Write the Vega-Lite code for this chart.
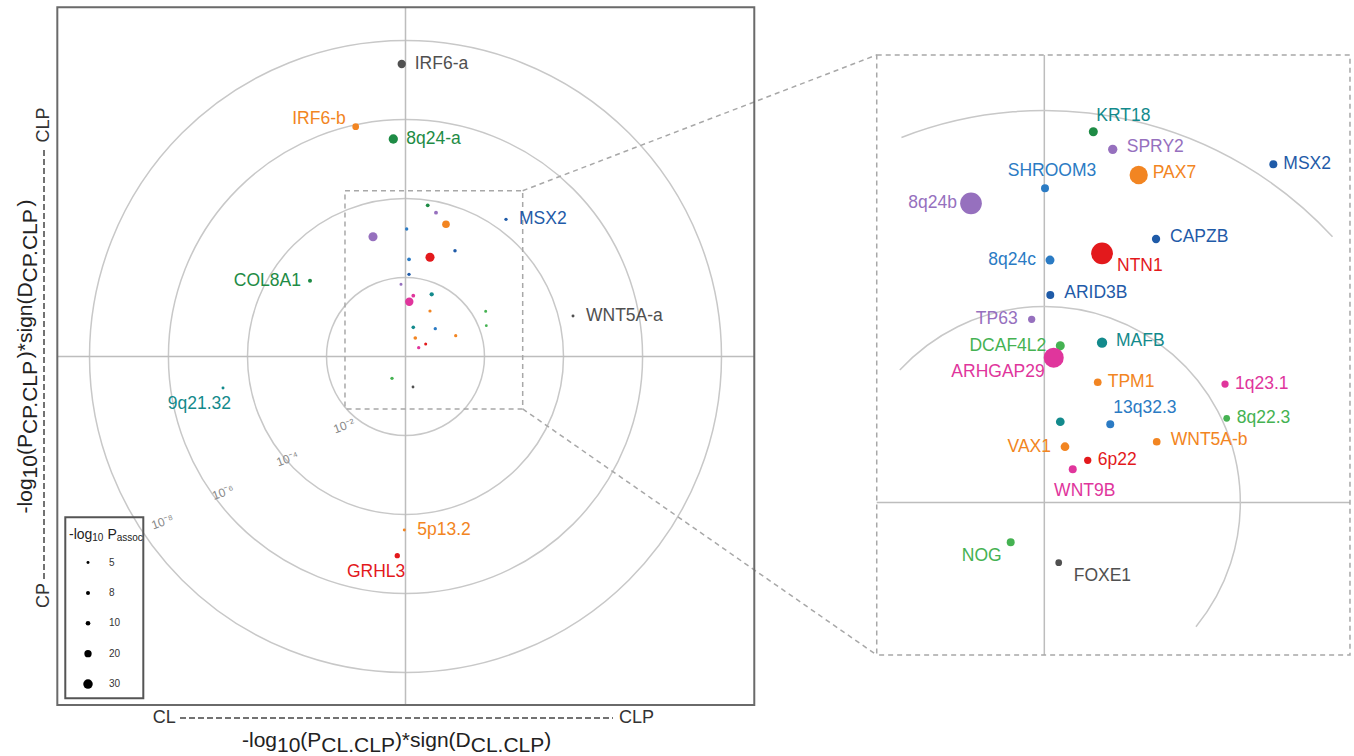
{
"$schema":"https://vega.github.io/schema/vega-lite/v6.json",
"width":1354,"height":756,"padding":0,
"autosize":{"type":"none"},
"background":"white",
"config":{"view":{"stroke":null},"axis":{"disable":true},"font":"Liberation Sans","text":{"font":"Liberation Sans"}},
"data":{"values":[{}]},
"datasets":{
"ov":[
{"gene":"IRF6-a","u":-0.096,"v":7.405,"nlogp":24.5,"grp":"k1","lgrp":"k1","pos":"E"},
{"gene":"IRF6-b","u":-1.261,"v":5.818,"nlogp":17.6,"grp":"k2","lgrp":"k2","pos":"NW"},
{"gene":"8q24-a","u":-0.309,"v":5.506,"nlogp":29,"grp":"k3","lgrp":"k3","pos":"E"},
{"gene":"MSX2","u":2.544,"v":3.473,"nlogp":6,"grp":"k6","lgrp":"k6","pos":"E"},
{"gene":"COL8A1","u":-2.418,"v":1.919,"nlogp":8,"grp":"k3","lgrp":"k3","pos":"W"},
{"gene":"WNT5A-a","u":4.241,"v":1.025,"nlogp":5,"grp":"k1","lgrp":"k1","pos":"E"},
{"gene":"9q21.32","u":-4.62,"v":-0.797,"nlogp":5,"grp":"k9","lgrp":"k9","pos":"SW"},
{"gene":"5p13.2","u":-0.03,"v":-4.392,"nlogp":5,"grp":"k2","lgrp":"k2","pos":"E"},
{"gene":"GRHL3","u":-0.208,"v":-5.043,"nlogp":12.3,"grp":"k8","lgrp":"k8","pos":"SW"},
{"gene":"KRT18","u":0.562,"v":3.828,"nlogp":7.2,"grp":"k3","lgrp":"k9","pos":"none"},
{"gene":"SPRY2","u":0.772,"v":3.641,"nlogp":7.6,"grp":"k7","lgrp":"k7","pos":"none"},
{"gene":"PAX7","u":1.025,"v":3.347,"nlogp":21.5,"grp":"k2","lgrp":"k2","pos":"none"},
{"gene":"SHROOM3","u":0.03,"v":3.228,"nlogp":6,"grp":"k5","lgrp":"k5","pos":"none"},
{"gene":"8q24b","u":-0.823,"v":3.033,"nlogp":28,"grp":"k7","lgrp":"k7","pos":"none"},
{"gene":"CAPZB","u":1.253,"v":2.678,"nlogp":6.4,"grp":"k6","lgrp":"k6","pos":"none"},
{"gene":"8q24c","u":0.089,"v":2.461,"nlogp":7.2,"grp":"k5","lgrp":"k5","pos":"none"},
{"gene":"NTN1","u":0.62,"v":2.511,"nlogp":28,"grp":"k8","lgrp":"k8","pos":"none"},
{"gene":"ARID3B","u":0.089,"v":2.081,"nlogp":6,"grp":"k6","lgrp":"k6","pos":"none"},
{"gene":"TP63","u":-0.114,"v":1.828,"nlogp":5.2,"grp":"k7","lgrp":"k7","pos":"none"},
{"gene":"DCAF4L2","u":0.197,"v":1.539,"nlogp":7.2,"grp":"k10","lgrp":"k10","pos":"none"},
{"gene":"ARHGAP29","u":0.096,"v":1.387,"nlogp":24.7,"grp":"k10","lgrp":"k10","pos":"none"},
{"gene":"MAFB","u":0.663,"v":1.575,"nlogp":8.9,"grp":"k9","lgrp":"k9","pos":"none"},
{"gene":"TPM1","u":0.62,"v":1.152,"nlogp":5.7,"grp":"k2","lgrp":"k2","pos":"none"},
{"gene":"1q23.1","u":2.03,"v":1.144,"nlogp":5.2,"grp":"k4","lgrp":"k4","pos":"none"},
{"gene":"8q22.3","u":2.046,"v":0.78,"nlogp":4.6,"grp":"k4","lgrp":"k4","pos":"none"},
{"gene":"unnamed","u":0.197,"v":0.739,"nlogp":6.9,"grp":"k9","lgrp":"k9","pos":"none"},
{"gene":"13q32.3","u":0.754,"v":0.704,"nlogp":6,"grp":"k5","lgrp":"k5","pos":"none"},
{"gene":"WNT5A-b","u":1.271,"v":0.527,"nlogp":5.7,"grp":"k2","lgrp":"k2","pos":"none"},
{"gene":"VAX1","u":0.248,"v":0.468,"nlogp":6.9,"grp":"k2","lgrp":"k2","pos":"none"},
{"gene":"6p22","u":0.511,"v":0.316,"nlogp":5.2,"grp":"k8","lgrp":"k8","pos":"none"},
{"gene":"WNT9B","u":0.334,"v":0.223,"nlogp":6,"grp":"k10","lgrp":"k10","pos":"none"},
{"gene":"NOG","u":-0.342,"v":-0.552,"nlogp":6,"grp":"k4","lgrp":"k4","pos":"none"},
{"gene":"FOXE1","u":0.19,"v":-0.772,"nlogp":4.6,"grp":"k1","lgrp":"k1","pos":"none"}
],
"zm":[
{"gene":"KRT18","u":0.5,"v":3.784,"nlogp":7.2,"grp":"k3","lgrp":"k9","pos":"NE"},
{"gene":"SPRY2","u":0.698,"v":3.604,"nlogp":7.6,"grp":"k7","lgrp":"k7","pos":"E2"},
{"gene":"MSX2","u":2.337,"v":3.451,"nlogp":6,"grp":"k6","lgrp":"k6","pos":"E"},
{"gene":"SHROOM3","u":0.007,"v":3.206,"nlogp":6,"grp":"k5","lgrp":"k5","pos":"N"},
{"gene":"PAX7","u":0.963,"v":3.342,"nlogp":21.5,"grp":"k2","lgrp":"k2","pos":"E2"},
{"gene":"8q24b","u":-0.748,"v":3.053,"nlogp":28,"grp":"k7","lgrp":"k7","pos":"W"},
{"gene":"CAPZB","u":1.14,"v":2.689,"nlogp":6.4,"grp":"k6","lgrp":"k6","pos":"E2"},
{"gene":"8q24c","u":0.058,"v":2.474,"nlogp":7.2,"grp":"k5","lgrp":"k5","pos":"W"},
{"gene":"NTN1","u":0.589,"v":2.543,"nlogp":28,"grp":"k8","lgrp":"k8","pos":"SE"},
{"gene":"ARID3B","u":0.061,"v":2.117,"nlogp":6,"grp":"k6","lgrp":"k6","pos":"E2"},
{"gene":"TP63","u":-0.129,"v":1.869,"nlogp":5.2,"grp":"k7","lgrp":"k7","pos":"W"},
{"gene":"DCAF4L2","u":0.163,"v":1.6,"nlogp":7.2,"grp":"k4","lgrp":"k4","pos":"W"},
{"gene":"ARHGAP29","u":0.096,"v":1.478,"nlogp":24.7,"grp":"k10","lgrp":"k10","pos":"SW"},
{"gene":"MAFB","u":0.589,"v":1.631,"nlogp":8.9,"grp":"k9","lgrp":"k9","pos":"E2"},
{"gene":"TPM1","u":0.545,"v":1.227,"nlogp":5.7,"grp":"k2","lgrp":"k2","pos":"E"},
{"gene":"1q23.1","u":1.844,"v":1.209,"nlogp":5.2,"grp":"k10","lgrp":"k10","pos":"E"},
{"gene":"unnamed","u":0.163,"v":0.824,"nlogp":6.9,"grp":"k9","lgrp":"k9","pos":"none"},
{"gene":"13q32.3","u":0.673,"v":0.798,"nlogp":6,"grp":"k5","lgrp":"k5","pos":"NE"},
{"gene":"8q22.3","u":1.861,"v":0.859,"nlogp":4.6,"grp":"k4","lgrp":"k4","pos":"E"},
{"gene":"WNT5A-b","u":1.147,"v":0.62,"nlogp":5.7,"grp":"k2","lgrp":"k2","pos":"E2"},
{"gene":"VAX1","u":0.211,"v":0.569,"nlogp":6.9,"grp":"k2","lgrp":"k2","pos":"W"},
{"gene":"6p22","u":0.443,"v":0.431,"nlogp":5.2,"grp":"k8","lgrp":"k8","pos":"E"},
{"gene":"WNT9B","u":0.29,"v":0.339,"nlogp":6,"grp":"k10","lgrp":"k10","pos":"S"},
{"gene":"NOG","u":-0.343,"v":-0.406,"nlogp":6,"grp":"k4","lgrp":"k4","pos":"SW"},
{"gene":"FOXE1","u":0.147,"v":-0.614,"nlogp":4.6,"grp":"k1","lgrp":"k1","pos":"SE"}
]
},
"layer":[
{
"layer":[
{"data":{"values":[{"r":2},{"r":4},{"r":6},{"r":8}]},
 "mark":{"type":"arc","theta":0,"theta2":6.2832,"filled":false,"stroke":"#c8c8c8","strokeWidth":1.5},
 "encoding":{"x":{"datum":0,"type":"quantitative","scale":{"domain":[-10.266,24.013],"nice":false,"zero":false}},"y":{"datum":0,"type":"quantitative","scale":{"domain":[-10.114,9.025],"nice":false,"zero":false}},
 "radius":{"field":"r","type":"quantitative","stack":null,"scale":{"type":"linear","domain":[0,8],"range":[0,316],"zero":true}}}},
{"mark":{"type":"rule","stroke":"#bdbdbd","strokeWidth":1.5},
 "encoding":{"x":{"datum":-8.815,"type":"quantitative","scale":{"domain":[-10.266,24.013],"nice":false,"zero":false}},"x2":{"datum":8.83},"y":{"datum":0,"type":"quantitative","scale":{"domain":[-10.114,9.025],"nice":false,"zero":false}}}},
{"mark":{"type":"rule","stroke":"#bdbdbd","strokeWidth":1.5},
 "encoding":{"x":{"datum":0,"type":"quantitative","scale":{"domain":[-10.266,24.013],"nice":false,"zero":false}},"y":{"datum":8.84,"type":"quantitative","scale":{"domain":[-10.114,9.025],"nice":false,"zero":false}},"y2":{"datum":-8.82}}},
{"mark":{"type":"rect","filled":false,"stroke":"#a8a8a8","strokeWidth":1.5,"strokeDash":[5,4]},
 "encoding":{"x":{"datum":-1.532,"type":"quantitative","scale":{"domain":[-10.266,24.013],"nice":false,"zero":false}},"x2":{"datum":2.967},"y":{"datum":4.197,"type":"quantitative","scale":{"domain":[-10.114,9.025],"nice":false,"zero":false}},"y2":{"datum":-1.327}}},
{"mark":{"type":"rule","stroke":"#a8a8a8","strokeWidth":1.5,"strokeDash":[5,4]},
 "encoding":{"x":{"datum":2.967,"type":"quantitative","scale":{"domain":[-10.266,24.013],"nice":false,"zero":false}},"x2":{"datum":11.929},"y":{"datum":4.197,"type":"quantitative","scale":{"domain":[-10.114,9.025],"nice":false,"zero":false}},"y2":{"datum":7.633}}},
{"mark":{"type":"rule","stroke":"#a8a8a8","strokeWidth":1.5,"strokeDash":[5,4]},
 "encoding":{"x":{"datum":2.967,"type":"quantitative","scale":{"domain":[-10.266,24.013],"nice":false,"zero":false}},"x2":{"datum":11.929},"y":{"datum":-1.327,"type":"quantitative","scale":{"domain":[-10.114,9.025],"nice":false,"zero":false}},"y2":{"datum":-7.557}}},
{"mark":{"type":"text","text":"10⁻²","fontSize":12,"color":"#8a8a8a","angle":340,"align":"center","baseline":"middle"},
 "encoding":{"x":{"datum":-1.557,"type":"quantitative","scale":{"domain":[-10.266,24.013],"nice":false,"zero":false}},"y":{"datum":-1.759,"type":"quantitative","scale":{"domain":[-10.114,9.025],"nice":false,"zero":false}}}},
{"mark":{"type":"text","text":"10⁻⁴","fontSize":12,"color":"#8a8a8a","angle":340,"align":"center","baseline":"middle"},
 "encoding":{"x":{"datum":-2.987,"type":"quantitative","scale":{"domain":[-10.266,24.013],"nice":false,"zero":false}},"y":{"datum":-2.595,"type":"quantitative","scale":{"domain":[-10.114,9.025],"nice":false,"zero":false}}}},
{"mark":{"type":"text","text":"10⁻⁶","fontSize":12,"color":"#8a8a8a","angle":340,"align":"center","baseline":"middle"},
 "encoding":{"x":{"datum":-4.62,"type":"quantitative","scale":{"domain":[-10.266,24.013],"nice":false,"zero":false}},"y":{"datum":-3.443,"type":"quantitative","scale":{"domain":[-10.114,9.025],"nice":false,"zero":false}}}},
{"mark":{"type":"text","text":"10⁻⁸","fontSize":12,"color":"#8a8a8a","angle":340,"align":"center","baseline":"middle"},
 "encoding":{"x":{"datum":-6.152,"type":"quantitative","scale":{"domain":[-10.266,24.013],"nice":false,"zero":false}},"y":{"datum":-4.19,"type":"quantitative","scale":{"domain":[-10.114,9.025],"nice":false,"zero":false}}}},
{"data":{"name":"ov"},
 "mark":{"type":"circle","opacity":1},
 "encoding":{
  "x":{"field":"u","type":"quantitative","scale":{"domain":[-10.266,24.013],"nice":false,"zero":false}},"y":{"field":"v","type":"quantitative","scale":{"domain":[-10.114,9.025],"nice":false,"zero":false}},
  "size":{"field":"nlogp","type":"quantitative","scale":{"type":"pow","exponent":1.3,"domain":[0,30],"range":[0,90]},
   "legend":{"orient":"none","legendX":83,"legendY":557.5,"title":null,"values":[5,8,10,20,30],"symbolType":"circle","symbolFillColor":"#000","symbolStrokeColor":"#000","symbolStrokeWidth":0,"symbolOpacity":1,"labelFontSize":10,"labelColor":"#333","labelOffset":16,"rowPadding":20.4,"padding":0,"direction":"vertical"}},
  "color":{"field":"grp","type":"nominal","scale":{"domain":["k1","k2","k3","k4","k5","k6","k7","k8","k9","k10"],"range":["#505050","#F28522","#1E8B45","#45B252","#2B7BC4","#1F5BA8","#9670BE","#E3191C","#138A8C","#E0359C"]},"legend":null}}},
{"data":{"name":"ov"},"transform":[{"filter":{"field":"pos","equal":"E"}}],
 "mark":{"type":"text","align":"left","baseline":"middle","dx":13,"fontSize":17.5},
 "encoding":{"x":{"field":"u","type":"quantitative","scale":{"domain":[-10.266,24.013],"nice":false,"zero":false}},"y":{"field":"v","type":"quantitative","scale":{"domain":[-10.114,9.025],"nice":false,"zero":false}},"text":{"field":"gene"},"color":{"field":"lgrp","type":"nominal","scale":{"domain":["k1","k2","k3","k4","k5","k6","k7","k8","k9","k10"],"range":["#505050","#F28522","#1E8B45","#45B252","#2B7BC4","#1F5BA8","#9670BE","#E3191C","#138A8C","#E0359C"]},"legend":null}}},
{"data":{"name":"ov"},"transform":[{"filter":{"field":"pos","equal":"W"}}],
 "mark":{"type":"text","align":"right","baseline":"middle","dx":-9,"fontSize":17.5},
 "encoding":{"x":{"field":"u","type":"quantitative","scale":{"domain":[-10.266,24.013],"nice":false,"zero":false}},"y":{"field":"v","type":"quantitative","scale":{"domain":[-10.114,9.025],"nice":false,"zero":false}},"text":{"field":"gene"},"color":{"field":"lgrp","type":"nominal","scale":{"domain":["k1","k2","k3","k4","k5","k6","k7","k8","k9","k10"],"range":["#505050","#F28522","#1E8B45","#45B252","#2B7BC4","#1F5BA8","#9670BE","#E3191C","#138A8C","#E0359C"]},"legend":null}}},
{"data":{"name":"ov"},"transform":[{"filter":{"field":"pos","equal":"NW"}}],
 "mark":{"type":"text","align":"right","baseline":"middle","dx":-10,"dy":-8,"fontSize":17.5},
 "encoding":{"x":{"field":"u","type":"quantitative","scale":{"domain":[-10.266,24.013],"nice":false,"zero":false}},"y":{"field":"v","type":"quantitative","scale":{"domain":[-10.114,9.025],"nice":false,"zero":false}},"text":{"field":"gene"},"color":{"field":"lgrp","type":"nominal","scale":{"domain":["k1","k2","k3","k4","k5","k6","k7","k8","k9","k10"],"range":["#505050","#F28522","#1E8B45","#45B252","#2B7BC4","#1F5BA8","#9670BE","#E3191C","#138A8C","#E0359C"]},"legend":null}}},
{"data":{"name":"ov"},"transform":[{"filter":{"field":"pos","equal":"SW"}}],
 "mark":{"type":"text","align":"right","baseline":"middle","dx":8,"dy":16,"fontSize":17.5},
 "encoding":{"x":{"field":"u","type":"quantitative","scale":{"domain":[-10.266,24.013],"nice":false,"zero":false}},"y":{"field":"v","type":"quantitative","scale":{"domain":[-10.114,9.025],"nice":false,"zero":false}},"text":{"field":"gene"},"color":{"field":"lgrp","type":"nominal","scale":{"domain":["k1","k2","k3","k4","k5","k6","k7","k8","k9","k10"],"range":["#505050","#F28522","#1E8B45","#45B252","#2B7BC4","#1F5BA8","#9670BE","#E3191C","#138A8C","#E0359C"]},"legend":null}}},
{"mark":{"type":"rect","filled":false,"stroke":"#555555","strokeWidth":2},
 "encoding":{"x":{"datum":-8.613,"type":"quantitative","scale":{"domain":[-10.266,24.013],"nice":false,"zero":false}},"x2":{"datum":-6.638},"y":{"datum":-4.071,"type":"quantitative","scale":{"domain":[-10.114,9.025],"nice":false,"zero":false}},"y2":{"datum":-8.653}}},
{"mark":{"type":"text","text":"-log","fontSize":14,"color":"#222","align":"left","baseline":"middle"},
 "encoding":{"x":{"datum":-8.519,"type":"quantitative","scale":{"domain":[-10.266,24.013],"nice":false,"zero":false}},"y":{"datum":-4.519,"type":"quantitative","scale":{"domain":[-10.114,9.025],"nice":false,"zero":false}}}},
{"mark":{"type":"text","text":"10","fontSize":10,"color":"#222","align":"left","baseline":"middle","dy":3},
 "encoding":{"x":{"datum":-7.929,"type":"quantitative","scale":{"domain":[-10.266,24.013],"nice":false,"zero":false}},"y":{"datum":-4.519,"type":"quantitative","scale":{"domain":[-10.114,9.025],"nice":false,"zero":false}}}},
{"mark":{"type":"text","text":"P","fontSize":14,"color":"#222","align":"left","baseline":"middle"},
 "encoding":{"x":{"datum":-7.547,"type":"quantitative","scale":{"domain":[-10.266,24.013],"nice":false,"zero":false}},"y":{"datum":-4.519,"type":"quantitative","scale":{"domain":[-10.114,9.025],"nice":false,"zero":false}}}},
{"mark":{"type":"text","text":"assoc","fontSize":10,"color":"#222","align":"left","baseline":"middle","dy":3},
 "encoding":{"x":{"datum":-7.311,"type":"quantitative","scale":{"domain":[-10.266,24.013],"nice":false,"zero":false}},"y":{"datum":-4.519,"type":"quantitative","scale":{"domain":[-10.114,9.025],"nice":false,"zero":false}}}},
{"mark":{"type":"rect","filled":false,"stroke":"#6a6a6a","strokeWidth":2},
 "encoding":{"x":{"datum":-8.815,"type":"quantitative","scale":{"domain":[-10.266,24.013],"nice":false,"zero":false}},"x2":{"datum":8.83},"y":{"datum":8.84,"type":"quantitative","scale":{"domain":[-10.114,9.025],"nice":false,"zero":false}},"y2":{"datum":-8.82}}},
{"mark":{"type":"text","text":"CL","fontSize":18,"color":"#333","align":"left","baseline":"middle"},
 "encoding":{"x":{"datum":-6.4,"type":"quantitative","scale":{"domain":[-10.266,24.013],"nice":false,"zero":false}},"y":{"datum":-9.152,"type":"quantitative","scale":{"domain":[-10.114,9.025],"nice":false,"zero":false}}}},
{"mark":{"type":"text","text":"CLP","fontSize":18,"color":"#333","align":"right","baseline":"middle"},
 "encoding":{"x":{"datum":6.291,"type":"quantitative","scale":{"domain":[-10.266,24.013],"nice":false,"zero":false}},"y":{"datum":-9.152,"type":"quantitative","scale":{"domain":[-10.114,9.025],"nice":false,"zero":false}}}},
{"mark":{"type":"rule","stroke":"#444","strokeWidth":1.5,"strokeDash":[6,3]},
 "encoding":{"x":{"datum":-5.709,"type":"quantitative","scale":{"domain":[-10.266,24.013],"nice":false,"zero":false}},"x2":{"datum":5.253},"y":{"datum":-9.152,"type":"quantitative","scale":{"domain":[-10.114,9.025],"nice":false,"zero":false}}}},
{"mark":{"type":"text","text":"CP","fontSize":18,"color":"#333","align":"left","baseline":"middle","angle":270},
 "encoding":{"x":{"datum":-9.152,"type":"quantitative","scale":{"domain":[-10.266,24.013],"nice":false,"zero":false}},"y":{"datum":-6.367,"type":"quantitative","scale":{"domain":[-10.114,9.025],"nice":false,"zero":false}}}},
{"mark":{"type":"text","text":"CLP","fontSize":18,"color":"#333","align":"right","baseline":"middle","angle":270},
 "encoding":{"x":{"datum":-9.152,"type":"quantitative","scale":{"domain":[-10.266,24.013],"nice":false,"zero":false}},"y":{"datum":6.301,"type":"quantitative","scale":{"domain":[-10.114,9.025],"nice":false,"zero":false}}}},
{"mark":{"type":"rule","stroke":"#444","strokeWidth":1.5,"strokeDash":[6,3]},
 "encoding":{"x":{"datum":-9.152,"type":"quantitative","scale":{"domain":[-10.266,24.013],"nice":false,"zero":false}},"y":{"datum":-5.633,"type":"quantitative","scale":{"domain":[-10.114,9.025],"nice":false,"zero":false}},"y2":{"datum":5.253}}},
{"mark":{"type":"text","text":"-log","fontSize":21,"color":"#222","align":"left","baseline":"middle"},
 "encoding":{"x":{"datum":-4.139,"type":"quantitative","scale":{"domain":[-10.266,24.013],"nice":false,"zero":false}},"y":{"datum":-9.734,"type":"quantitative","scale":{"domain":[-10.114,9.025],"nice":false,"zero":false}}}},
{"mark":{"type":"text","text":"10","fontSize":21,"color":"#222","align":"left","baseline":"middle","dy":5},
 "encoding":{"x":{"datum":-3.253,"type":"quantitative","scale":{"domain":[-10.266,24.013],"nice":false,"zero":false}},"y":{"datum":-9.734,"type":"quantitative","scale":{"domain":[-10.114,9.025],"nice":false,"zero":false}}}},
{"mark":{"type":"text","text":"(P","fontSize":21,"color":"#222","align":"left","baseline":"middle"},
 "encoding":{"x":{"datum":-2.662,"type":"quantitative","scale":{"domain":[-10.266,24.013],"nice":false,"zero":false}},"y":{"datum":-9.734,"type":"quantitative","scale":{"domain":[-10.114,9.025],"nice":false,"zero":false}}}},
{"mark":{"type":"text","text":"CL.CLP","fontSize":21,"color":"#222","align":"left","baseline":"middle","dy":5},
 "encoding":{"x":{"datum":-2.13,"type":"quantitative","scale":{"domain":[-10.266,24.013],"nice":false,"zero":false}},"y":{"datum":-9.734,"type":"quantitative","scale":{"domain":[-10.114,9.025],"nice":false,"zero":false}}}},
{"mark":{"type":"text","text":")*sign(D","fontSize":21,"color":"#222","align":"left","baseline":"middle"},
 "encoding":{"x":{"datum":-0.269,"type":"quantitative","scale":{"domain":[-10.266,24.013],"nice":false,"zero":false}},"y":{"datum":-9.734,"type":"quantitative","scale":{"domain":[-10.114,9.025],"nice":false,"zero":false}}}},
{"mark":{"type":"text","text":"CL.CLP","fontSize":21,"color":"#222","align":"left","baseline":"middle","dy":5},
 "encoding":{"x":{"datum":1.651,"type":"quantitative","scale":{"domain":[-10.266,24.013],"nice":false,"zero":false}},"y":{"datum":-9.734,"type":"quantitative","scale":{"domain":[-10.114,9.025],"nice":false,"zero":false}}}},
{"mark":{"type":"text","text":")","fontSize":21,"color":"#222","align":"left","baseline":"middle"},
 "encoding":{"x":{"datum":3.511,"type":"quantitative","scale":{"domain":[-10.266,24.013],"nice":false,"zero":false}},"y":{"datum":-9.734,"type":"quantitative","scale":{"domain":[-10.114,9.025],"nice":false,"zero":false}}}},
{"mark":{"type":"text","text":"-log","fontSize":21,"color":"#222","align":"left","baseline":"middle","angle":270},
 "encoding":{"x":{"datum":-9.608,"type":"quantitative","scale":{"domain":[-10.266,24.013],"nice":false,"zero":false}},"y":{"datum":-3.972,"type":"quantitative","scale":{"domain":[-10.114,9.025],"nice":false,"zero":false}}}},
{"mark":{"type":"text","text":"10","fontSize":21,"color":"#222","align":"left","baseline":"middle","angle":270,"dy":5},
 "encoding":{"x":{"datum":-9.608,"type":"quantitative","scale":{"domain":[-10.266,24.013],"nice":false,"zero":false}},"y":{"datum":-3.086,"type":"quantitative","scale":{"domain":[-10.114,9.025],"nice":false,"zero":false}}}},
{"mark":{"type":"text","text":"(P","fontSize":21,"color":"#222","align":"left","baseline":"middle","angle":270},
 "encoding":{"x":{"datum":-9.608,"type":"quantitative","scale":{"domain":[-10.266,24.013],"nice":false,"zero":false}},"y":{"datum":-2.496,"type":"quantitative","scale":{"domain":[-10.114,9.025],"nice":false,"zero":false}}}},
{"mark":{"type":"text","text":"CP.CLP","fontSize":21,"color":"#222","align":"left","baseline":"middle","angle":270,"dy":5},
 "encoding":{"x":{"datum":-9.608,"type":"quantitative","scale":{"domain":[-10.266,24.013],"nice":false,"zero":false}},"y":{"datum":-1.965,"type":"quantitative","scale":{"domain":[-10.114,9.025],"nice":false,"zero":false}}}},
{"mark":{"type":"text","text":")*sign(D","fontSize":21,"color":"#222","align":"left","baseline":"middle","angle":270},
 "encoding":{"x":{"datum":-9.608,"type":"quantitative","scale":{"domain":[-10.266,24.013],"nice":false,"zero":false}},"y":{"datum":-0.043,"type":"quantitative","scale":{"domain":[-10.114,9.025],"nice":false,"zero":false}}}},
{"mark":{"type":"text","text":"CP.CLP","fontSize":21,"color":"#222","align":"left","baseline":"middle","angle":270,"dy":5},
 "encoding":{"x":{"datum":-9.608,"type":"quantitative","scale":{"domain":[-10.266,24.013],"nice":false,"zero":false}},"y":{"datum":1.876,"type":"quantitative","scale":{"domain":[-10.114,9.025],"nice":false,"zero":false}}}},
{"mark":{"type":"text","text":")","fontSize":21,"color":"#222","align":"left","baseline":"middle","angle":270},
 "encoding":{"x":{"datum":-9.608,"type":"quantitative","scale":{"domain":[-10.266,24.013],"nice":false,"zero":false}},"y":{"datum":3.797,"type":"quantitative","scale":{"domain":[-10.114,9.025],"nice":false,"zero":false}}}}
]
},
{
"layer":[
{"mark":{"type":"rule","stroke":"#bdbdbd","strokeWidth":1.5},
 "encoding":{"x":{"datum":0,"type":"quantitative","scale":{"domain":[-10.656,3.16],"nice":false,"zero":false}},"y":{"datum":4.566,"type":"quantitative","scale":{"domain":[-2.587,5.128],"nice":false,"zero":false}},"y2":{"datum":-1.556}}},
{"mark":{"type":"rule","stroke":"#bdbdbd","strokeWidth":1.5},
 "encoding":{"x":{"datum":-1.71,"type":"quantitative","scale":{"domain":[-10.656,3.16],"nice":false,"zero":false}},"x2":{"datum":3.119},"y":{"datum":0,"type":"quantitative","scale":{"domain":[-2.587,5.128],"nice":false,"zero":false}}}},
{"data":{"values":[{"r":2}]},
 "mark":{"type":"arc","theta":-0.829,"theta2":2.257,"filled":false,"stroke":"#c8c8c8","strokeWidth":1.5},
 "encoding":{"x":{"datum":0,"type":"quantitative","scale":{"domain":[-10.656,3.16],"nice":false,"zero":false}},"y":{"datum":0,"type":"quantitative","scale":{"domain":[-2.587,5.128],"nice":false,"zero":false}},
 "radius":{"field":"r","type":"quantitative","stack":null,"scale":{"type":"linear","domain":[0,4],"range":[0,392],"zero":true}},"radius2":{"field":"r"}}},
{"data":{"values":[{"r":4}]},
 "mark":{"type":"arc","theta":-0.373,"theta2":0.826,"filled":false,"stroke":"#c8c8c8","strokeWidth":1.5},
 "encoding":{"x":{"datum":0,"type":"quantitative","scale":{"domain":[-10.656,3.16],"nice":false,"zero":false}},"y":{"datum":0,"type":"quantitative","scale":{"domain":[-2.587,5.128],"nice":false,"zero":false}},
 "radius":{"field":"r","type":"quantitative","stack":null,"scale":{"type":"linear","domain":[0,4],"range":[0,392],"zero":true}},"radius2":{"field":"r"}}},
{"mark":{"type":"rect","filled":false,"stroke":"#a8a8a8","strokeWidth":1.5,"strokeDash":[5,4]},
 "encoding":{"x":{"datum":-1.71,"type":"quantitative","scale":{"domain":[-10.656,3.16],"nice":false,"zero":false}},"x2":{"datum":3.119},"y":{"datum":4.566,"type":"quantitative","scale":{"domain":[-2.587,5.128],"nice":false,"zero":false}},"y2":{"datum":-1.556}}},
{"data":{"name":"zm"},
 "mark":{"type":"circle","opacity":1},
 "encoding":{
  "x":{"field":"u","type":"quantitative","scale":{"domain":[-10.656,3.16],"nice":false,"zero":false}},"y":{"field":"v","type":"quantitative","scale":{"domain":[-2.587,5.128],"nice":false,"zero":false}},
  "size":{"field":"nlogp","type":"quantitative","scale":{"type":"pow","exponent":1.3,"domain":[0,30],"range":[0,516]},"legend":null},
  "color":{"field":"grp","type":"nominal","scale":{"domain":["k1","k2","k3","k4","k5","k6","k7","k8","k9","k10"],"range":["#505050","#F28522","#1E8B45","#45B252","#2B7BC4","#1F5BA8","#9670BE","#E3191C","#138A8C","#E0359C"]},"legend":null}}},
{"data":{"name":"zm"},"transform":[{"filter":{"field":"pos","equal":"E"}}],
 "mark":{"type":"text","align":"left","baseline":"middle","dx":10,"fontSize":17.5},
 "encoding":{"x":{"field":"u","type":"quantitative","scale":{"domain":[-10.656,3.16],"nice":false,"zero":false}},"y":{"field":"v","type":"quantitative","scale":{"domain":[-2.587,5.128],"nice":false,"zero":false}},"text":{"field":"gene"},"color":{"field":"lgrp","type":"nominal","scale":{"domain":["k1","k2","k3","k4","k5","k6","k7","k8","k9","k10"],"range":["#505050","#F28522","#1E8B45","#45B252","#2B7BC4","#1F5BA8","#9670BE","#E3191C","#138A8C","#E0359C"]},"legend":null}}},
{"data":{"name":"zm"},"transform":[{"filter":{"field":"pos","equal":"E2"}}],
 "mark":{"type":"text","align":"left","baseline":"middle","dx":14,"dy":-2,"fontSize":17.5},
 "encoding":{"x":{"field":"u","type":"quantitative","scale":{"domain":[-10.656,3.16],"nice":false,"zero":false}},"y":{"field":"v","type":"quantitative","scale":{"domain":[-2.587,5.128],"nice":false,"zero":false}},"text":{"field":"gene"},"color":{"field":"lgrp","type":"nominal","scale":{"domain":["k1","k2","k3","k4","k5","k6","k7","k8","k9","k10"],"range":["#505050","#F28522","#1E8B45","#45B252","#2B7BC4","#1F5BA8","#9670BE","#E3191C","#138A8C","#E0359C"]},"legend":null}}},
{"data":{"name":"zm"},"transform":[{"filter":{"field":"pos","equal":"W"}}],
 "mark":{"type":"text","align":"right","baseline":"middle","dx":-14,"fontSize":17.5},
 "encoding":{"x":{"field":"u","type":"quantitative","scale":{"domain":[-10.656,3.16],"nice":false,"zero":false}},"y":{"field":"v","type":"quantitative","scale":{"domain":[-2.587,5.128],"nice":false,"zero":false}},"text":{"field":"gene"},"color":{"field":"lgrp","type":"nominal","scale":{"domain":["k1","k2","k3","k4","k5","k6","k7","k8","k9","k10"],"range":["#505050","#F28522","#1E8B45","#45B252","#2B7BC4","#1F5BA8","#9670BE","#E3191C","#138A8C","#E0359C"]},"legend":null}}},
{"data":{"name":"zm"},"transform":[{"filter":{"field":"pos","equal":"NE"}}],
 "mark":{"type":"text","align":"left","baseline":"middle","dx":3,"dy":-16,"fontSize":17.5},
 "encoding":{"x":{"field":"u","type":"quantitative","scale":{"domain":[-10.656,3.16],"nice":false,"zero":false}},"y":{"field":"v","type":"quantitative","scale":{"domain":[-2.587,5.128],"nice":false,"zero":false}},"text":{"field":"gene"},"color":{"field":"lgrp","type":"nominal","scale":{"domain":["k1","k2","k3","k4","k5","k6","k7","k8","k9","k10"],"range":["#505050","#F28522","#1E8B45","#45B252","#2B7BC4","#1F5BA8","#9670BE","#E3191C","#138A8C","#E0359C"]},"legend":null}}},
{"data":{"name":"zm"},"transform":[{"filter":{"field":"pos","equal":"N"}}],
 "mark":{"type":"text","align":"center","baseline":"middle","dx":7,"dy":-17,"fontSize":17.5},
 "encoding":{"x":{"field":"u","type":"quantitative","scale":{"domain":[-10.656,3.16],"nice":false,"zero":false}},"y":{"field":"v","type":"quantitative","scale":{"domain":[-2.587,5.128],"nice":false,"zero":false}},"text":{"field":"gene"},"color":{"field":"lgrp","type":"nominal","scale":{"domain":["k1","k2","k3","k4","k5","k6","k7","k8","k9","k10"],"range":["#505050","#F28522","#1E8B45","#45B252","#2B7BC4","#1F5BA8","#9670BE","#E3191C","#138A8C","#E0359C"]},"legend":null}}},
{"data":{"name":"zm"},"transform":[{"filter":{"field":"pos","equal":"SE"}}],
 "mark":{"type":"text","align":"left","baseline":"middle","dx":15,"dy":13,"fontSize":17.5},
 "encoding":{"x":{"field":"u","type":"quantitative","scale":{"domain":[-10.656,3.16],"nice":false,"zero":false}},"y":{"field":"v","type":"quantitative","scale":{"domain":[-2.587,5.128],"nice":false,"zero":false}},"text":{"field":"gene"},"color":{"field":"lgrp","type":"nominal","scale":{"domain":["k1","k2","k3","k4","k5","k6","k7","k8","k9","k10"],"range":["#505050","#F28522","#1E8B45","#45B252","#2B7BC4","#1F5BA8","#9670BE","#E3191C","#138A8C","#E0359C"]},"legend":null}}},
{"data":{"name":"zm"},"transform":[{"filter":{"field":"pos","equal":"S"}}],
 "mark":{"type":"text","align":"center","baseline":"middle","dx":12,"dy":22,"fontSize":17.5},
 "encoding":{"x":{"field":"u","type":"quantitative","scale":{"domain":[-10.656,3.16],"nice":false,"zero":false}},"y":{"field":"v","type":"quantitative","scale":{"domain":[-2.587,5.128],"nice":false,"zero":false}},"text":{"field":"gene"},"color":{"field":"lgrp","type":"nominal","scale":{"domain":["k1","k2","k3","k4","k5","k6","k7","k8","k9","k10"],"range":["#505050","#F28522","#1E8B45","#45B252","#2B7BC4","#1F5BA8","#9670BE","#E3191C","#138A8C","#E0359C"]},"legend":null}}},
{"data":{"name":"zm"},"transform":[{"filter":{"field":"pos","equal":"SW"}}],
 "mark":{"type":"text","align":"right","baseline":"middle","dx":-9,"dy":14,"fontSize":17.5},
 "encoding":{"x":{"field":"u","type":"quantitative","scale":{"domain":[-10.656,3.16],"nice":false,"zero":false}},"y":{"field":"v","type":"quantitative","scale":{"domain":[-2.587,5.128],"nice":false,"zero":false}},"text":{"field":"gene"},"color":{"field":"lgrp","type":"nominal","scale":{"domain":["k1","k2","k3","k4","k5","k6","k7","k8","k9","k10"],"range":["#505050","#F28522","#1E8B45","#45B252","#2B7BC4","#1F5BA8","#9670BE","#E3191C","#138A8C","#E0359C"]},"legend":null}}}
]
}
],
"resolve":{"scale":{"x":"independent","y":"independent","size":"independent","radius":"independent"}}
}
